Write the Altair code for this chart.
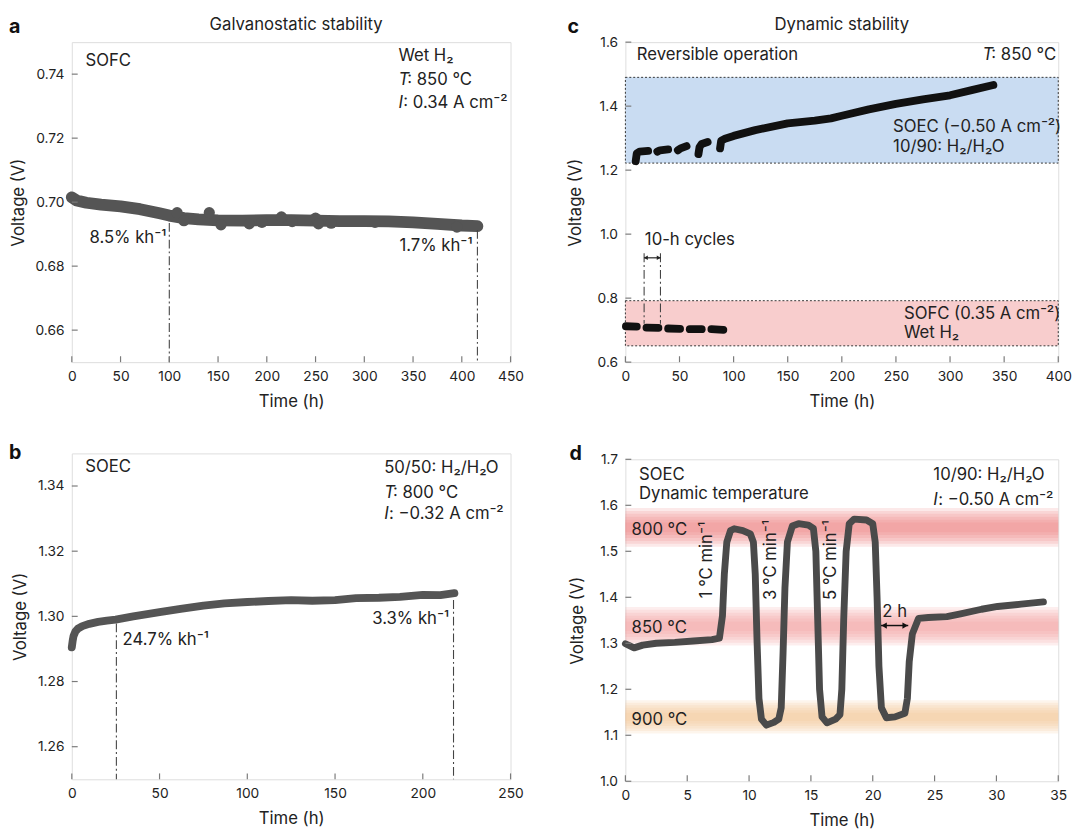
import altair as alt
import pandas as pd

FONT = "Inter"
TXT = "#222222"
FRAME = "#7a7a7a"
FS = 17  # annotation font size

# ---------------- Panel a : SOFC galvanostatic ----------------
a_time = [0, 5, 15, 30, 50, 70, 90, 100, 115, 130, 150, 175, 200, 225, 250, 275, 300, 325, 350, 375, 400, 416]
a_volt = [0.7015, 0.7005, 0.6998, 0.6992, 0.6987, 0.6978, 0.6965, 0.6958, 0.6950, 0.6946, 0.6943, 0.6942,
          0.6944, 0.6944, 0.6942, 0.6941, 0.6941, 0.6940, 0.6937, 0.6932, 0.6927, 0.6925]
a_blob_time = [108, 141, 215, 250, 115, 153, 182, 195, 226, 253, 266, 311, 395]
a_blob_volt = [0.6967, 0.6967, 0.6954, 0.6950, 0.6942, 0.6929, 0.6932, 0.6937, 0.6939, 0.6932, 0.6934, 0.6937, 0.6922]
a_mark_time = [100, 416]
a_mark_top = [0.6935, 0.6913]
a_mark_label = ["8.5% kh⁻¹", "1.7% kh⁻¹"]
a_mark_label_t = [97, 411]
a_mark_label_v = [0.6889, 0.6864]
a_xticks = [0, 50, 100, 150, 200, 250, 300, 350, 400, 450]
a_yticks = [0.66, 0.68, 0.70, 0.72, 0.74]

# ---------------- Panel b : SOEC galvanostatic ----------------
b_time = [0, 0.5, 1, 2, 3.5, 6, 10, 15, 20, 25, 35, 50, 62, 75, 87, 100, 112, 125, 137, 150, 162, 175, 187, 200, 210, 218]
b_volt = [1.2905, 1.2925, 1.2940, 1.2953, 1.2962, 1.2970, 1.2977, 1.2983, 1.2987, 1.2990, 1.3000, 1.3013, 1.3023,
          1.3033, 1.3040, 1.3044, 1.3047, 1.3050, 1.3048, 1.3050, 1.3056, 1.3057, 1.3060, 1.3066, 1.3065, 1.3071]
b_mark_time = [25.4, 217.5]
b_mark_top = [1.2978, 1.3050]
b_xticks = [0, 50, 100, 150, 200, 250]
b_yticks = [1.26, 1.28, 1.30, 1.32, 1.34]

# ---------------- Panel c : reversible operation ----------------
c_seg = (["f1"] * 2 + ["f2"] * 2 + ["f3"] * 2 + ["f4"] * 2 + ["f5"] * 2 +
         ["e1"] * 4 + ["e2"] * 3 + ["e3"] * 3 + ["e4"] * 4 + ["e5"] * 15)
c_time = [0.5, 10.5, 19.5, 30.5, 39.5, 50.5, 59.5, 70.5, 79.5, 90.5,
          9.5, 10.5, 13, 21,
          29.5, 32, 39.5,
          48.5, 51, 56.5,
          67.5, 68.5, 70.5, 76,
          87.5, 88.5, 92, 100, 120, 150, 175, 190, 200, 225, 250, 275, 300, 320, 340]
c_volt = [0.712, 0.711, 0.708, 0.707, 0.705, 0.704, 0.703, 0.703, 0.703, 0.701,
          1.228, 1.252, 1.258, 1.260,
          1.258, 1.262, 1.265,
          1.262, 1.268, 1.275,
          1.250, 1.272, 1.282, 1.288,
          1.268, 1.292, 1.298, 1.307, 1.325, 1.346, 1.355, 1.362, 1.370, 1.390, 1.407, 1.421, 1.434, 1.450, 1.466]
c_band_lo = [1.222, 0.651]
c_band_hi = [1.490, 0.792]
c_band_color = ["#c9dcf2", "#f8cdcd"]
c_cycle_t = [17.3, 32.4]
c_xticks = [0, 50, 100, 150, 200, 250, 300, 350, 400]
c_yticks = [0.6, 0.8, 1.0, 1.2, 1.4, 1.6]

# ---------------- Panel d : dynamic temperature ----------------
d_time = [0, 0.7, 1.4, 2.5, 4, 5.5, 7, 7.6, 7.85, 8.0, 8.2, 8.5, 8.8, 9.5, 10.1, 10.35, 10.5, 10.65, 10.8, 11.0,
          11.4, 12.0, 12.4, 12.6, 12.75, 12.9, 13.1, 13.5, 14.0, 14.8, 15.2, 15.4, 15.55, 15.7, 15.9, 16.3, 17.0,
          17.35, 17.5, 17.65, 17.85, 18.1, 18.5, 19.5, 20.0, 20.2, 20.35, 20.5, 20.7, 21.1, 21.8, 22.6, 22.8, 22.95,
          23.2, 23.7, 24.5, 26, 27.1, 28.8, 30.1, 32, 33.8]
d_volt = [1.299, 1.290, 1.296, 1.300, 1.302, 1.305, 1.308, 1.311, 1.36, 1.45, 1.52, 1.545, 1.549, 1.545, 1.538,
          1.52, 1.45, 1.30, 1.18, 1.135, 1.122, 1.128, 1.135, 1.16, 1.28, 1.42, 1.52, 1.555, 1.560, 1.557, 1.550,
          1.50, 1.35, 1.20, 1.14, 1.127, 1.135, 1.145, 1.20, 1.35, 1.50, 1.56, 1.570, 1.568, 1.560, 1.52, 1.40,
          1.25, 1.16, 1.138, 1.140, 1.148, 1.18, 1.26, 1.32, 1.354, 1.356, 1.358, 1.364, 1.374, 1.380, 1.385, 1.390]
d_band_center = [1.552, 1.337, 1.140]
d_band_half = [0.042, 0.042, 0.036]
d_band_color = ["#ee7f7f", "#f29c9c", "#f4c48c"]
d_band_label = ["800 °C", "850 °C", "900 °C"]
d_band_label_v = [1.5453, 1.3336, 1.1334]
d_rate_label = ["1 °C min⁻¹", "3 °C min⁻¹", "5 °C min⁻¹"]
d_rate_t = [6.64, 11.77, 16.64]
d_rate_v = [1.481, 1.481, 1.481]
d_gap_t = [20.67, 22.87]
d_gap_v = 1.3386
d_xticks = [0, 5, 10, 15, 20, 25, 30, 35]
d_yticks = [1.0, 1.1, 1.2, 1.3, 1.4, 1.5, 1.6, 1.7]


def axes(xdom, ydom, xt, yt, yfmt, tpad):
    xa = alt.Axis(values=xt, format="d", title="Time (h)", labelFlush=False, ticks=False, domain=False,
                  grid=False, labelOverlap=False, labelFont=FONT, labelFontSize=14, labelColor=TXT,
                  labelPadding=8, titleFont=FONT, titleFontSize=17, titleFontWeight="normal",
                  titleColor=TXT, titlePadding=10)
    ya = alt.Axis(values=yt, format=yfmt, title="Voltage (V)", labelFlush=False, ticks=False, domain=False,
                  grid=False, labelOverlap=False, labelFont=FONT, labelFontSize=14, labelColor=TXT,
                  labelPadding=8, titleFont=FONT, titleFontSize=17, titleFontWeight="normal",
                  titleColor=TXT, titlePadding=tpad)
    X = alt.X("t:Q", scale=alt.Scale(domain=xdom, nice=False, zero=False), axis=xa)
    Y = alt.Y("v:Q", scale=alt.Scale(domain=ydom, nice=False, zero=False), axis=ya)
    return X, Y


def tick_layers(xt, yt, h, X, Y):
    xr = alt.Chart(pd.DataFrame({"t": xt})).mark_rule(color=FRAME, strokeWidth=1.2).encode(
        x=X, y=alt.value(h), y2=alt.value(h - 6))
    yr = alt.Chart(pd.DataFrame({"v": yt})).mark_rule(color=FRAME, strokeWidth=1.2).encode(
        y=Y, x=alt.value(0), x2=alt.value(6))
    return [xr, yr]


def text_layer(t, v, labels, X, Y, align="left", size=FS, style="normal", angle=0, dx=0, baseline="middle"):
    df = pd.DataFrame({"t": t, "v": v, "label": labels})
    return alt.Chart(df).mark_text(align=align, baseline=baseline, font=FONT, fontSize=size, fontStyle=style,
                                   color=TXT, angle=angle, dx=dx).encode(x=X, y=Y, text="label:N")


def pixel_text(txt, x, y, size, weight="normal", align="left", color=TXT):
    return alt.Chart(pd.DataFrame({"label": [txt]})).mark_text(
        align=align, baseline="alphabetic", font=FONT, fontSize=size, fontWeight=weight, color=color
    ).encode(text="label:N", x=alt.value(x), y=alt.value(y))


def letter(ch, x, y):
    return pixel_text(ch, x, y, 20, weight="bold", color="#111111")


def dashdot(t, top, bottom, X, Y):
    df = pd.DataFrame({"t": t, "v": top, "v2": [bottom] * len(t)})
    return alt.Chart(df).mark_rule(color="#444444", strokeWidth=1.1, strokeDash=[9, 3, 2, 3]).encode(
        x=X, y=Y, y2="v2:Q")


# ---------------- build a ----------------
WA, HA = 447, 326
X, Y = axes([0, 450], [0.65, 0.75], a_xticks, a_yticks, ".2f", 8)
a_line = alt.Chart(pd.DataFrame({"t": a_time, "v": a_volt})).mark_line(
    color="#555555", strokeWidth=12, strokeCap="round", strokeJoin="round").encode(x=X, y=Y)
a_blobs = alt.Chart(pd.DataFrame({"t": a_blob_time, "v": a_blob_volt})).mark_circle(
    color="#555555", size=130, opacity=1).encode(x=X, y=Y)
a_layers = [a_line, a_blobs, dashdot(a_mark_time, a_mark_top, 0.65, X, Y),
            text_layer(a_mark_label_t, a_mark_label_v, a_mark_label, X, Y, align="right"),
            text_layer([14], [0.7440], ["SOFC"], X, Y),
            text_layer([335], [0.7456], ["Wet H₂"], X, Y),
            text_layer([335, 335], [0.7382, 0.7311], ["T", "I"], X, Y, style="italic"),
            text_layer([335], [0.7382], [": 850 °C"], X, Y, dx=9),
            text_layer([335], [0.7311], [": 0.34 A cm⁻²"], X, Y, dx=5)]
a_layers += tick_layers(a_xticks, a_yticks, HA, X, Y)
a_layers.append(letter("a", -64, -9))
a_layers.append(pixel_text("Galvanostatic stability", WA / 2 + 5, -12, 17, align="center"))
chart_a = alt.layer(*a_layers).properties(width=WA, height=HA)

# ---------------- build b ----------------
WB, HB = 447, 332
X, Y = axes([0, 250], [1.25, 1.35], b_xticks, b_yticks, ".2f", 8)
b_line = alt.Chart(pd.DataFrame({"t": b_time, "v": b_volt})).mark_line(
    color="#555555", strokeWidth=8, strokeCap="round", strokeJoin="round").encode(x=X, y=Y)
b_layers = [b_line, dashdot(b_mark_time, b_mark_top, 1.25, X, Y),
            text_layer([28.9], [1.2928], ["24.7% kh⁻¹"], X, Y),
            text_layer([215], [1.2993], ["3.3% kh⁻¹"], X, Y, align="right"),
            text_layer([7.7], [1.3458], ["SOEC"], X, Y),
            text_layer([178], [1.3455], ["50/50: H₂/H₂O"], X, Y),
            text_layer([178, 178], [1.3378, 1.3313], ["T", "I"], X, Y, style="italic"),
            text_layer([178], [1.3378], [": 800 °C"], X, Y, dx=9),
            text_layer([178], [1.3313], [": −0.32 A cm⁻²"], X, Y, dx=5)]
b_layers += tick_layers(b_xticks, b_yticks, HB, X, Y)
b_layers.append(letter("b", -64, 6))
chart_b = alt.layer(*b_layers).properties(width=WB, height=HB)

# ---------------- build c ----------------
WC, HC = 441, 326
X, Y = axes([0, 400], [0.6, 1.6], c_xticks, c_yticks, ".1f", 13)
c_bands = alt.Chart(pd.DataFrame({"v": c_band_lo, "v2": c_band_hi, "col": c_band_color})).mark_rect(
    stroke="#333333", strokeWidth=1, strokeDash=[2, 2]).encode(
    y=Y, y2="v2:Q", x=alt.value(0), x2=alt.value(WC), color=alt.Color("col:N", scale=None))
c_line = alt.Chart(pd.DataFrame({"t": c_time, "v": c_volt, "seg": c_seg})).mark_line(
    color="#111111", strokeWidth=8, strokeCap="round", strokeJoin="round").encode(x=X, y=Y, detail="seg:N")
c_arrow = alt.Chart(pd.DataFrame({"t": [c_cycle_t[0]], "t2": [c_cycle_t[1]], "v": [0.926]})).mark_rule(
    color="#222222", strokeWidth=1.2).encode(x=X, x2="t2:Q", y=Y)
c_heads = alt.Chart(pd.DataFrame({"t": [c_cycle_t[0] + 1.6, c_cycle_t[1] - 1.6], "v": [0.926, 0.926],
                                  "shape": ["triangle-left", "triangle-right"]})).mark_point(
    filled=True, color="#222222", size=22, opacity=1).encode(x=X, y=Y, shape=alt.Shape("shape:N", scale=None))
c_layers = [c_bands, dashdot(c_cycle_t, [0.94, 0.94], 0.72, X, Y), c_line, c_arrow, c_heads,
            text_layer([18], [0.981], ["10-h cycles"], X, Y),
            text_layer([10.6], [1.559], ["Reversible operation"], X, Y),
            text_layer([330], [1.559], ["T"], X, Y, style="italic"),
            text_layer([330], [1.559], [": 850 °C"], X, Y, dx=9),
            text_layer([247.4, 247.4], [1.3345, 1.2714], ["SOEC (−0.50 A cm⁻²)", "10/90: H₂/H₂O"], X, Y),
            text_layer([257.4, 257.4], [0.7506, 0.6895], ["SOFC (0.35 A cm⁻²)", "Wet H₂"], X, Y)]
c_layers += tick_layers(c_xticks, c_yticks, HC, X, Y)
c_layers.append(letter("c", -59, -9))
c_layers.append(pixel_text("Dynamic stability", WC / 2, -12, 17, align="center"))
chart_c = alt.layer(*c_layers).properties(width=WC, height=HC)

# ---------------- build d ----------------
WD, HD = 441, 328
X, Y = axes([0, 35], [1.0, 1.7], d_xticks, d_yticks, ".1f", 13)
band_rows = {"v": [], "v2": [], "col": []}
for cen, half, col in zip(d_band_center, d_band_half, d_band_color):
    for k in [1.0, 0.85, 0.7, 0.55, 0.4, 0.25]:
        band_rows["v"].append(cen - half * k)
        band_rows["v2"].append(cen + half * k)
        band_rows["col"].append(col)
d_bands = alt.Chart(pd.DataFrame(band_rows)).mark_rect(opacity=0.17).encode(
    y=Y, y2="v2:Q", x=alt.value(0), x2=alt.value(WD), color=alt.Color("col:N", scale=None))
d_line = alt.Chart(pd.DataFrame({"t": d_time, "v": d_volt})).mark_line(
    color="#4a4a4a", strokeWidth=7, strokeCap="round", strokeJoin="round").encode(x=X, y=Y)
d_arrow = alt.Chart(pd.DataFrame({"t": [d_gap_t[0]], "t2": [d_gap_t[1]], "v": [d_gap_v]})).mark_rule(
    color="#111111", strokeWidth=1.5).encode(x=X, x2="t2:Q", y=Y)
d_heads = alt.Chart(pd.DataFrame({"t": [d_gap_t[0] + 0.25, d_gap_t[1] - 0.25], "v": [d_gap_v, d_gap_v],
                                  "shape": ["triangle-left", "triangle-right"]})).mark_point(
    filled=True, color="#111111", size=40, opacity=1).encode(x=X, y=Y, shape=alt.Shape("shape:N", scale=None))
d_layers = [d_bands, d_line, d_arrow, d_heads,
            text_layer([0.5, 0.5, 0.5], d_band_label_v, d_band_label, X, Y),
            text_layer(d_rate_t, d_rate_v, d_rate_label, X, Y, align="center", angle=270),
            text_layer([21.77], [1.368], ["2 h"], X, Y, align="center"),
            text_layer([1.1, 1.1], [1.6665, 1.6237], ["SOEC", "Dynamic temperature"], X, Y),
            text_layer([24.9], [1.6665], ["10/90: H₂/H₂O"], X, Y),
            text_layer([24.9], [1.611], ["I"], X, Y, style="italic"),
            text_layer([24.9], [1.611], [": −0.50 A cm⁻²"], X, Y, dx=5)]
d_layers += tick_layers(d_xticks, d_yticks, HD, X, Y)
d_layers.append(letter("d", -57, 1))
chart_d = alt.layer(*d_layers).properties(width=WD, height=HD)

left = alt.vconcat(chart_a, chart_b, spacing=33)
right = alt.vconcat(chart_c, chart_d, spacing=34)
chart = alt.hconcat(left, right, spacing=42).properties(padding=0).configure_view(
    stroke=FRAME, strokeWidth=1.3).configure(font=FONT)

chart.save("out.html", embed_options={"renderer": "svg", "actions": False})
